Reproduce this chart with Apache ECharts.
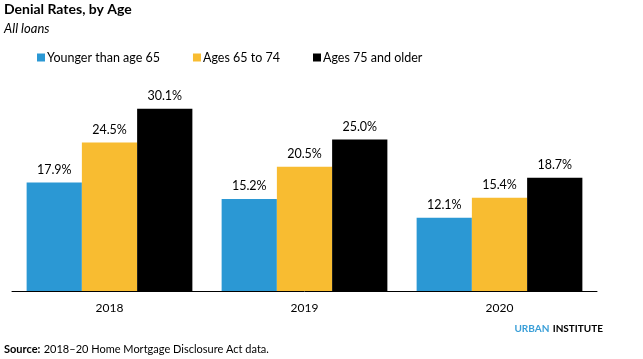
<!DOCTYPE html>
<html><head><meta charset="utf-8">
<script src="https://cdn.jsdelivr.net/npm/echarts@6/dist/echarts.min.js"></script>
<style>html,body{margin:0;padding:0;background:#fff}#c{width:643px;height:359px}</style>
</head><body><div id="c"></div>
<script>
const categories = ['2018', '2019', '2020'];
const seriesNames = ['Younger than age 65', 'Ages 65 to 74', 'Ages 75 and older'];
const younger = [17.9, 15.2, 12.1];
const ages65to74 = [24.5, 20.5, 15.4];
const ages75plus = [30.1, 25.0, 18.7];
const colors = ['#2b98d4', '#f8bc31', '#000000'];
const values = [younger, ages65to74, ages75plus];

const chart = echarts.init(document.getElementById('c'), null, {renderer: 'canvas'});
const F = 'Lato, "Noto Sans", sans-serif';
chart.setOption({
  animation: false,
  textStyle: {fontFamily: F},
  title: [
    {text: 'Denial Rates, by Age', left: 4, top: 2, padding: 0, textStyle: {fontFamily: F, fontSize: 14, fontWeight: 'bold', color: '#000'}},
    {text: 'All loans', left: 4, top: 22, padding: 0, textStyle: {fontFamily: F, fontSize: 13, fontStyle: 'italic', fontWeight: 'normal', color: '#000'}}
  ],
  legend: {
    left: 37, top: 51, padding: 0, itemWidth: 8, itemHeight: 8, itemGap: 33,
    icon: 'rect',
    textStyle: {fontFamily: F, fontSize: 12.5, color: '#000', padding: [0, 0, 0, -3]},
    data: seriesNames
  },
  graphic: [
    {type: 'text', right: 40, top: 323, style: {text: '{a|URBAN} {b|INSTITUTE}', rich: {
      a: {fontFamily: F, fontSize: 10, fontWeight: 'bold', fill: '#3a9fd8', letterSpacing: 1},
      b: {fontFamily: F, fontSize: 10, fontWeight: 'bold', fill: '#000', letterSpacing: 1}
    }}},
    {type: 'text', left: 4, top: 343, style: {text: '{a|Source:} {b|2018–20 Home Mortgage Disclosure Act data.}', rich: {
      a: {fontFamily: F, fontSize: 11, fontWeight: 'bold', fill: '#000'},
      b: {fontFamily: F, fontSize: 11, fill: '#000'}
    }}}
  ],
  grid: {left: 12, right: 46, top: 79, bottom: 68, containLabel: false},
  xAxis: {
    type: 'category', data: categories,
    axisLine: {lineStyle: {color: '#000', width: 1}},
    axisTick: {show: false},
    axisLabel: {fontFamily: F, fontSize: 12, color: '#000', margin: 11}
  },
  yAxis: {type: 'value', min: 0, max: 35, show: false, splitLine: {show: false}},
  series: seriesNames.map((n, i) => ({
    name: n, type: 'bar', data: values[i],
    barGap: '0%', barCategoryGap: '15%',
    itemStyle: {color: colors[i]},
    label: {show: true, position: 'top', distance: 6, fontFamily: F, fontSize: 12.5, color: '#000',
      formatter: p => p.value.toFixed(1) + '%'}
  }))
});
</script></body></html>
